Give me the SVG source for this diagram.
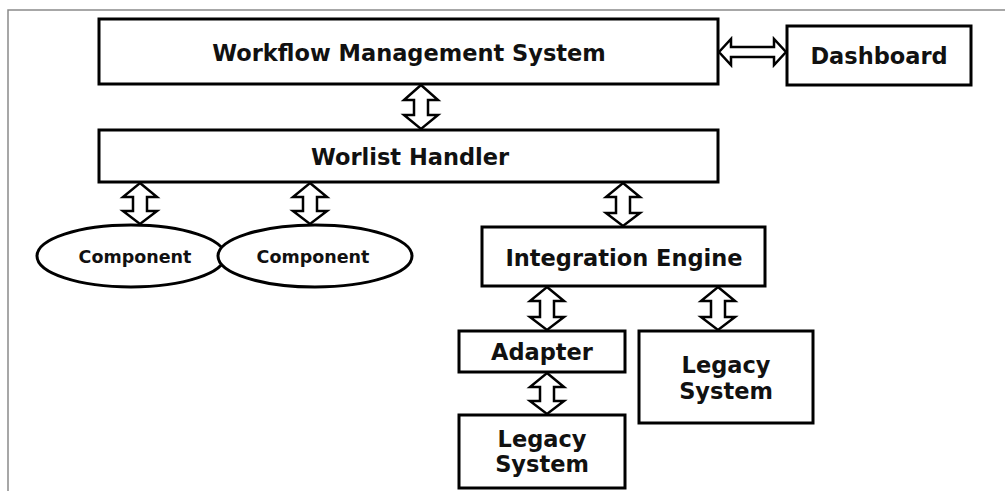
<svg xmlns="http://www.w3.org/2000/svg" width="1005" height="491" viewBox="0 0 1005 491">
<style>
.box{fill:#fff;stroke:#000;stroke-width:3}
.arr{fill:#fff;stroke:#000;stroke-width:2.5;stroke-linejoin:miter}
.t{font-family:"DejaVu Sans",Verdana,sans-serif;font-weight:bold;font-size:22.5px;fill:#111;text-anchor:middle}
.s{font-size:17.5px}
.frame{fill:none;stroke:#8a8a8a;stroke-width:1.5}
</style>
<rect width="1005" height="491" fill="#fff"/>
<path class="frame" d="M8,491 L8,10 L1005,10"/>
<g id="connectors">
<path class="arr" d="M421,85 L438,100 L428,100 L428,115 L438,115 L421,129 L404,115 L414,115 L414,100 L404,100 Z"/>
<path class="arr" d="M140,183 L157,197 L147,197 L147,211 L157,211 L140,224 L123,211 L133,211 L133,197 L123,197 Z"/>
<path class="arr" d="M310,183 L327,197 L317,197 L317,211 L327,211 L310,224 L293,211 L303,211 L303,197 L293,197 Z"/>
<path class="arr" d="M623,183 L640,197 L630,197 L630,213 L640,213 L623,226 L606,213 L616,213 L616,197 L606,197 Z"/>
<path class="arr" d="M547,287 L564,301 L554,301 L554,317 L564,317 L547,330 L530,317 L540,317 L540,301 L530,301 Z"/>
<path class="arr" d="M718,287 L735,301 L725,301 L725,317 L735,317 L718,330 L701,317 L711,317 L711,301 L701,301 Z"/>
<path class="arr" d="M547,373 L564,387 L554,387 L554,401 L564,401 L547,414 L530,401 L540,401 L540,387 L530,387 Z"/>
<path class="arr" d="M719,52 L731,39 L731,47 L774,47 L774,39 L786,52 L774,65 L774,57 L731,57 L731,65 Z"/>
</g>
<g id="wms"><rect class="box" x="99" y="19" width="619" height="65"/><text class="t" x="409" y="61">Workflow Management System</text></g>
<g id="dashboard"><rect class="box" x="787" y="26" width="184" height="59"/><text class="t" x="879" y="64">Dashboard</text></g>
<g id="worlist"><rect class="box" x="99" y="130" width="619" height="52"/><text class="t" x="410" y="165">Worlist Handler</text></g>
<g id="component1"><ellipse class="box" cx="131" cy="256" rx="94" ry="31"/><text class="t s" x="135" y="263">Component</text></g>
<g id="component2"><ellipse class="box" cx="315" cy="256" rx="97" ry="31"/><text class="t s" x="313" y="263">Component</text></g>
<g id="integration"><rect class="box" x="482" y="227" width="283" height="59"/><text class="t" x="624" y="266">Integration Engine</text></g>
<g id="adapter"><rect class="box" x="459" y="331" width="166" height="41"/><text class="t" x="542" y="360">Adapter</text></g>
<g id="legacy1"><rect class="box" x="459" y="415" width="166" height="73"/><text class="t" x="542" y="447">Legacy</text><text class="t" x="542" y="472">System</text></g>
<g id="legacy2"><rect class="box" x="639" y="331" width="174" height="92"/><text class="t" x="726" y="373">Legacy</text><text class="t" x="726" y="399">System</text></g>
</svg>
